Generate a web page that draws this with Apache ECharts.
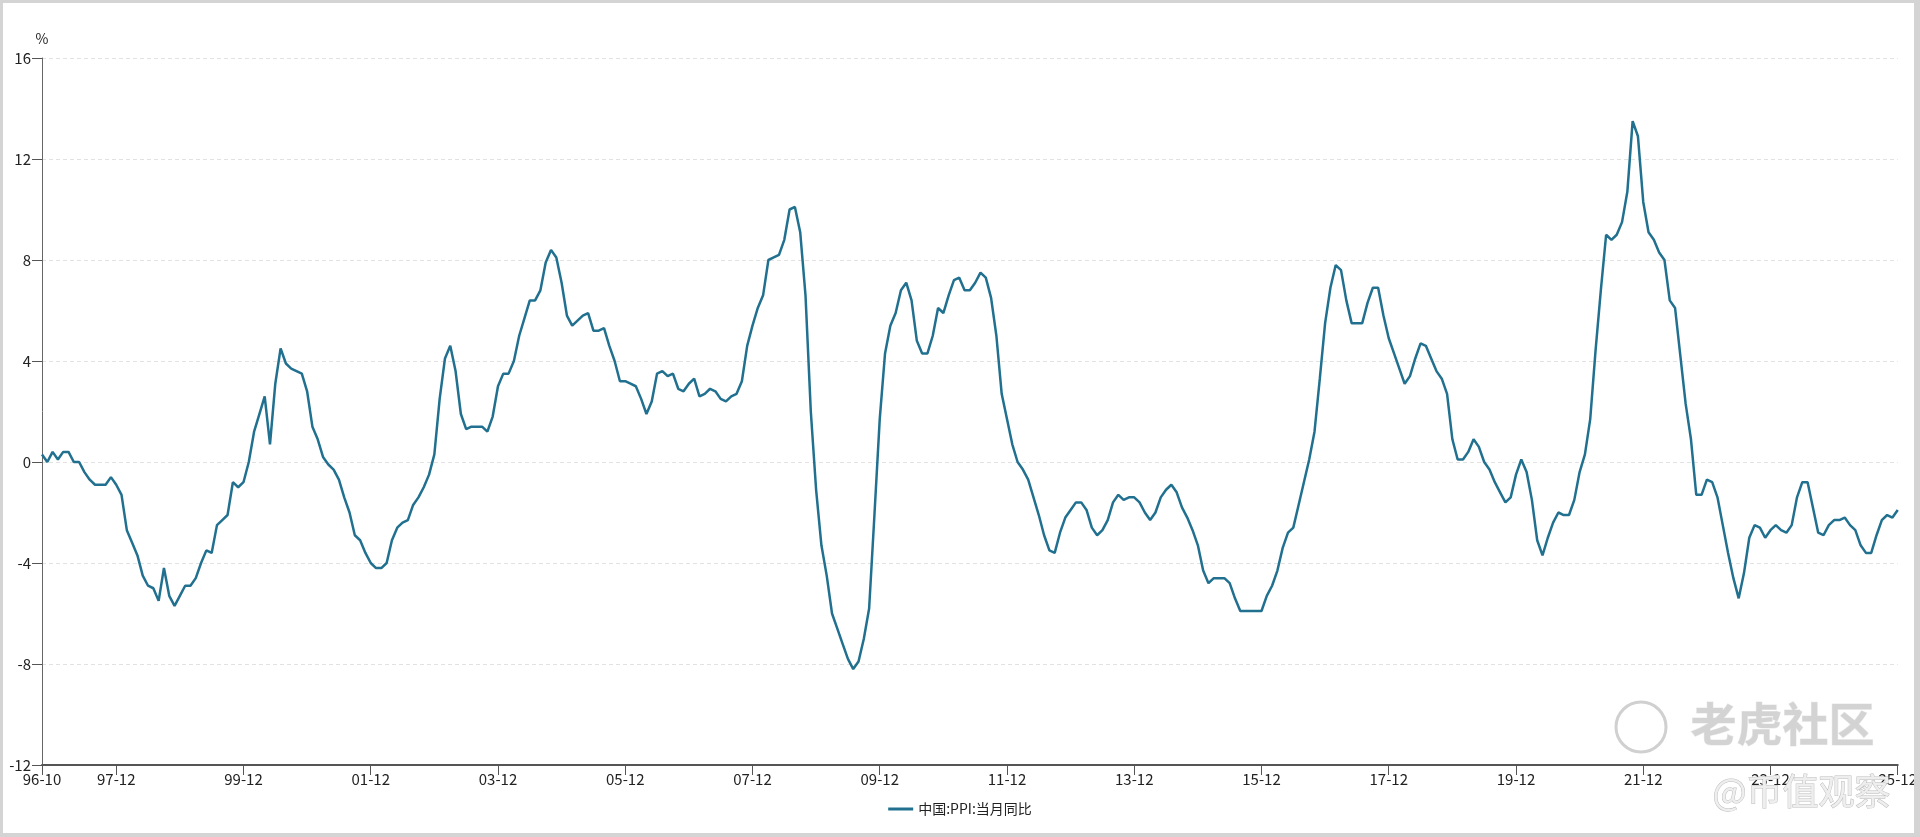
<!DOCTYPE html>
<html>
<head>
<meta charset="utf-8">
<script src="https://cdn.jsdelivr.net/npm/echarts@6/dist/echarts.min.js"></script>
<style>
html,body{margin:0;padding:0;background:#fff;}
#c{width:1920px;height:837px;}
#frame{position:absolute;left:0;top:0;width:1920px;height:837px;box-sizing:border-box;border-style:solid;border-color:#d4d4d4;border-width:3px 6px 4px 3px;pointer-events:none;}
</style>
</head>
<body>
<div id="c"></div>
<div id="frame"></div>
<script>
// 中国:PPI:当月同比 (%), monthly, 1996-10 .. 2025-12
const ppi1996 = [0.3, 0.0, 0.4]; // Oct-Dec
const ppi1997 = [0.1, 0.4, 0.4, 0.0, 0.0, -0.4, -0.7, -0.9, -0.9, -0.9, -0.6, -0.9];
const ppi1998 = [-1.3, -2.7, -3.2, -3.7, -4.5, -4.9, -5.0, -5.5, -4.2, -5.3, -5.7, -5.3];
const ppi1999 = [-4.9, -4.9, -4.6, -4.0, -3.5, -3.6, -2.5, -2.3, -2.1, -0.8, -1.0, -0.8];
const ppi2000 = [0.0, 1.2, 1.9, 2.6, 0.7, 3.1, 4.5, 3.9, 3.7, 3.6, 3.5, 2.8];
const ppi2001 = [1.4, 0.9, 0.2, -0.1, -0.3, -0.7, -1.4, -2.0, -2.9, -3.1, -3.6, -4.0];
const ppi2002 = [-4.2, -4.2, -4.0, -3.1, -2.6, -2.4, -2.3, -1.7, -1.4, -1.0, -0.5, 0.3];
const ppi2003 = [2.5, 4.1, 4.6, 3.6, 1.9, 1.3, 1.4, 1.4, 1.4, 1.2, 1.8, 3.0];
const ppi2004 = [3.5, 3.5, 4.0, 5.0, 5.7, 6.4, 6.4, 6.8, 7.9, 8.4, 8.1, 7.1];
const ppi2005 = [5.8, 5.4, 5.6, 5.8, 5.9, 5.2, 5.2, 5.3, 4.6, 4.0, 3.2, 3.2];
const ppi2006 = [3.1, 3.0, 2.5, 1.9, 2.4, 3.5, 3.6, 3.4, 3.5, 2.9, 2.8, 3.1];
const ppi2007 = [3.3, 2.6, 2.7, 2.9, 2.8, 2.5, 2.4, 2.6, 2.7, 3.2, 4.6, 5.4];
const ppi2008 = [6.1, 6.6, 8.0, 8.1, 8.2, 8.8, 10.0, 10.1, 9.1, 6.6, 2.0, -1.1];
const ppi2009 = [-3.3, -4.5, -6.0, -6.6, -7.2, -7.8, -8.2, -7.9, -7.0, -5.8, -2.1, 1.7];
const ppi2010 = [4.3, 5.4, 5.9, 6.8, 7.1, 6.4, 4.8, 4.3, 4.3, 5.0, 6.1, 5.9];
const ppi2011 = [6.6, 7.2, 7.3, 6.8, 6.8, 7.1, 7.5, 7.3, 6.5, 5.0, 2.7, 1.7];
const ppi2012 = [0.7, 0.0, -0.3, -0.7, -1.4, -2.1, -2.9, -3.5, -3.6, -2.8, -2.2, -1.9];
const ppi2013 = [-1.6, -1.6, -1.9, -2.6, -2.9, -2.7, -2.3, -1.6, -1.3, -1.5, -1.4, -1.4];
const ppi2014 = [-1.6, -2.0, -2.3, -2.0, -1.4, -1.1, -0.9, -1.2, -1.8, -2.2, -2.7, -3.3];
const ppi2015 = [-4.3, -4.8, -4.6, -4.6, -4.6, -4.8, -5.4, -5.9, -5.9, -5.9, -5.9, -5.9];
const ppi2016 = [-5.3, -4.9, -4.3, -3.4, -2.8, -2.6, -1.7, -0.8, 0.1, 1.2, 3.3, 5.5];
const ppi2017 = [6.9, 7.8, 7.6, 6.4, 5.5, 5.5, 5.5, 6.3, 6.9, 6.9, 5.8, 4.9];
const ppi2018 = [4.3, 3.7, 3.1, 3.4, 4.1, 4.7, 4.6, 4.1, 3.6, 3.3, 2.7, 0.9];
const ppi2019 = [0.1, 0.1, 0.4, 0.9, 0.6, 0.0, -0.3, -0.8, -1.2, -1.6, -1.4, -0.5];
const ppi2020 = [0.1, -0.4, -1.5, -3.1, -3.7, -3.0, -2.4, -2.0, -2.1, -2.1, -1.5, -0.4];
const ppi2021 = [0.3, 1.7, 4.4, 6.8, 9.0, 8.8, 9.0, 9.5, 10.7, 13.5, 12.9, 10.3];
const ppi2022 = [9.1, 8.8, 8.3, 8.0, 6.4, 6.1, 4.2, 2.3, 0.9, -1.3, -1.3, -0.7];
const ppi2023 = [-0.8, -1.4, -2.5, -3.6, -4.6, -5.4, -4.4, -3.0, -2.5, -2.6, -3.0, -2.7];
const ppi2024 = [-2.5, -2.7, -2.8, -2.5, -1.4, -0.8, -0.8, -1.8, -2.8, -2.9, -2.5, -2.3];
const ppi2025 = [-2.3, -2.2, -2.5, -2.7, -3.3, -3.6, -3.6, -2.9, -2.3, -2.1, -2.2, -1.9];

const seriesName = '中国:PPI:当月同比';
const yTicks = {min: -12, max: 16, interval: 4};
const firstYear = 1996, firstMonth = 10;

const yearly = [ppi1996, ppi1997, ppi1998, ppi1999, ppi2000, ppi2001, ppi2002, ppi2003,
  ppi2004, ppi2005, ppi2006, ppi2007, ppi2008, ppi2009, ppi2010, ppi2011, ppi2012, ppi2013,
  ppi2014, ppi2015, ppi2016, ppi2017, ppi2018, ppi2019, ppi2020, ppi2021, ppi2022, ppi2023,
  ppi2024, ppi2025];

const categories = [];
const values = [];
yearly.forEach((arr, k) => {
  const year = firstYear + k;
  const m0 = k === 0 ? firstMonth : 1;
  arr.forEach((v, j) => {
    categories.push(String(year % 100).padStart(2, '0') + '-' + (m0 + j));
    values.push(v);
  });
});

// labels at first month and every December from 1997-12 on, every 2 years
const showIdx = (i) => i === 0 || (i >= 14 && (i - 14) % 24 === 0);

const font = '"Noto Sans CJK SC", "Noto Sans", sans-serif';
const chart = echarts.init(document.getElementById('c'), null, {renderer: 'canvas'});
chart.setOption({
  animation: false,
  backgroundColor: '#ffffff',
  textStyle: {fontFamily: font},
  grid: {left: 42, top: 58, width: 1858, bottom: 72, containLabel: false},
  legend: {
    data: [seriesName],
    top: 797,
    left: 'center',
    icon: 'rect',
    itemWidth: 25,
    itemHeight: 3,
    itemGap: 10,
    textStyle: {fontSize: 14, color: '#222', fontFamily: font}
  },
  xAxis: {
    type: 'category',
    data: categories,
    boundaryGap: false,
    axisLine: {show: true, onZero: false, lineStyle: {color: '#555', width: 2}},
    axisTick: {show: true, interval: showIdx, length: 10, lineStyle: {color: '#555', width: 1}},
    axisLabel: {interval: showIdx, color: '#222', fontSize: 15, margin: 7, fontFamily: font},
    splitLine: {show: false}
  },
  yAxis: {
    type: 'value',
    min: yTicks.min,
    max: yTicks.max,
    interval: yTicks.interval,
    name: '%',
    nameLocation: 'end',
    nameGap: 12,
    nameTextStyle: {color: '#222', fontSize: 14, fontFamily: font},
    axisLine: {show: true, lineStyle: {color: '#666', width: 1}},
    axisTick: {show: true, length: 10, lineStyle: {color: '#555'}},
    axisLabel: {color: '#222', fontSize: 15, margin: 11, fontFamily: font},
    splitLine: {show: true, lineStyle: {color: '#e2e2e2', type: [4, 3], width: 1}}
  },
  series: [{
    name: seriesName,
    type: 'line',
    data: values,
    symbol: 'none',
    smooth: false,
    lineStyle: {width: 2.5, color: '#21708f'},
    itemStyle: {color: '#21708f'}
  }],
  graphic: [
    {type: 'circle', z: 100, shape: {cx: 1641, cy: 727, r: 25}, style: {fill: 'none', stroke: '#d0d0d0', lineWidth: 3}},
    {type: 'text', z: 100, left: 1690, top: 700, style: {text: '老虎社区', fontSize: 46, fontWeight: 'bold', fontFamily: font, fill: '#d3d3d3', stroke: '#ececec', lineWidth: 1}},
    {type: 'text', z: 100, left: 1712, top: 773, style: {text: '@币值观察', fontSize: 36, fontFamily: font, fill: '#eeeeee', stroke: '#bdbdbd', lineWidth: 1}}
  ]
});
</script>
</body>
</html>
